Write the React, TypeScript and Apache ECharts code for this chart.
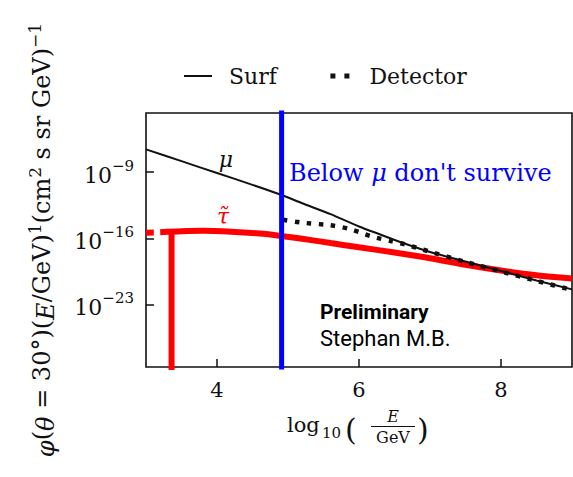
import React, { useEffect, useRef } from "react";
import * as echarts from "echarts";

// Axis ticks (x in log10(E/GeV), y as log10 of flux)
const xTicks = [4, 6, 8];
const yTicks = [-23, -16, -9];

// Muon flux at surface (black solid), log10 values
const muX = [3.0, 3.5, 4.0, 4.5, 4.9, 5.2, 5.6, 6.0, 6.3, 6.6, 7.0, 7.5, 8.0, 8.5, 9.0];
const muY = [-6.6, -7.85, -9.1, -10.35, -11.4, -12.3, -13.45, -14.75, -15.6, -16.45, -17.45, -18.45, -19.45, -20.45, -21.4];

// Muon flux at detector (black dotted)
const detX = [4.93, 5.2, 5.6, 5.85, 6.0, 6.2, 6.45, 6.65, 6.9, 7.5, 8.0, 8.5, 9.0];
const detY = [-14.05, -14.35, -14.62, -14.98, -15.35, -15.85, -16.3, -16.65, -17.2, -18.5, -19.5, -20.5, -21.45];

// Stau flux (red)
const tauLeftX = [3.0, 3.11];
const tauLeftY = [-15.42, -15.4];
const tauX = [3.2, 3.5, 3.8, 4.2, 4.6, 4.9, 5.2, 5.6, 6.0, 6.5, 7.0, 7.5, 8.0, 8.5, 9.0];
const tauY = [-15.35, -15.25, -15.2, -15.3, -15.5, -15.75, -16.05, -16.5, -16.95, -17.5, -18.1, -18.8, -19.4, -19.9, -20.25];
const tauCutX = [3.36, 3.36];
const tauCutY = [-15.35, -40];

// Survival threshold (blue vertical)
const cutX = [4.91, 4.91];
const cutY = [-40, 5];

const pair = (xs: number[], ys: number[]) => xs.map((x, i) => [x, ys[i]]);

const SERIF = '"DejaVu Serif"';
const INK = "#111";
const RED = "#ff0000";
const BLUE = "#0000ff";

const txt = (x: number, y: number, text: string, font: string, fill: string, align = "left", extra: any = {}) => ({
  type: "text",
  x,
  y,
  style: {
    text,
    font,
    fill,
    align,
    verticalAlign: "middle",
    textAlign: align,
    textVerticalAlign: "middle",
    ...extra,
  },
});

export default function App() {
  const ref = useRef<HTMLDivElement>(null);
  useEffect(() => {
    const chart = echarts.init(ref.current!, null, { renderer: "svg" });
    chart.setOption({
      animation: false,
      grid: {
        left: 146,
        right: 1,
        top: 113,
        bottom: 110,
        show: true,
        borderColor: INK,
        borderWidth: 1.6,
        backgroundColor: "transparent",
      },
      legend: {
        top: 65,
        left: 183,
        padding: 0,
        itemWidth: 28,
        itemHeight: 14,
        itemGap: 45,
        itemStyle: { opacity: 0, color: "transparent", borderWidth: 0 },
        textStyle: { fontFamily: SERIF, fontSize: 22, color: INK, padding: [0, 0, 0, 12] },
        data: [
          { name: "Surf", lineStyle: { width: 2, color: INK, type: "solid" } },
          { name: "Detector", lineStyle: { type: [5, 9], dashOffset: 8, width: 5, cap: "butt", color: INK } },
        ],
      },
      xAxis: {
        type: "value",
        min: 3,
        max: 9,
        axisLine: { show: false },
        splitLine: { show: false },
        axisTick: { show: true, inside: true, length: 8, customValues: xTicks, lineStyle: { color: INK, width: 1.5 } },
        axisLabel: { customValues: xTicks, fontFamily: SERIF, fontSize: 21, color: INK, margin: 12 },
      },
      yAxis: {
        type: "value",
        min: -29.6,
        max: -2.76,
        axisLine: { show: false },
        splitLine: { show: false },
        axisTick: { show: true, inside: true, length: 8, customValues: yTicks, lineStyle: { color: INK, width: 1.5 } },
        axisLabel: {
          customValues: yTicks,
          margin: 12,
          formatter: (v: number) => `{b|10}{s|−${Math.abs(Math.round(v))}}`,
          rich: {
            b: { fontFamily: SERIF, fontSize: 22, color: INK, lineHeight: 28, verticalAlign: "bottom" },
            s: { fontFamily: SERIF, fontSize: 15, color: INK, lineHeight: 15, verticalAlign: "top" },
          },
        },
        name: "{i|φ}({i|θ} = 30°)({i|E}/GeV){s|1}(cm{s|2} s sr GeV){s|−1}",
        nameLocation: "middle",
        nameRotate: 90,
        nameGap: 88,
        nameTextStyle: {
          fontFamily: SERIF,
          fontSize: 24,
          color: INK,
          lineHeight: 32,
          rich: {
            i: { fontFamily: SERIF, fontStyle: "italic", fontSize: 24, color: INK, lineHeight: 32, verticalAlign: "bottom" },
            s: { fontFamily: SERIF, fontSize: 17, color: INK, lineHeight: 17, verticalAlign: "top" },
          },
        },
      },
      series: [
        {
          name: "τ̃ edge",
          type: "line",
          data: pair(tauLeftX, tauLeftY),
          symbol: "none",
          lineStyle: { color: RED, width: 6, cap: "butt" },
          silent: true,
        },
        {
          name: "τ̃",
          type: "line",
          data: pair(tauX, tauY),
          symbol: "none",
          smooth: 0.3,
          lineStyle: { color: RED, width: 6 },
          silent: true,
        },
        {
          name: "τ̃ threshold",
          type: "line",
          data: pair(tauCutX, tauCutY),
          symbol: "none",
          lineStyle: { color: RED, width: 6, cap: "butt" },
          silent: true,
        },
        {
          name: "Surf",
          type: "line",
          data: pair(muX, muY),
          symbol: "none",
          smooth: 0.2,
          lineStyle: { color: INK, width: 2 },
          itemStyle: { color: INK },
          silent: true,
        },
        {
          name: "Detector",
          type: "line",
          data: pair(detX, detY),
          symbol: "none",
          smooth: 0.2,
          lineStyle: { color: INK, width: 4.5, type: [4.5, 7.5], cap: "butt" },
          itemStyle: { color: INK },
          silent: true,
        },
        {
          name: "Survival cut",
          type: "line",
          data: pair(cutX, cutY),
          symbol: "none",
          lineStyle: { color: BLUE, width: 5, cap: "butt" },
          silent: true,
        },
      ],
      graphic: [
        txt(226, 159, "μ", `italic 22px ${SERIF}`, INK, "center"),
        txt(223, 216, "τ\u0303", `italic 22px ${SERIF}`, RED, "center"),
        txt(289, 173, "Below {m|μ} don't survive", `24px ${SERIF}`, BLUE, "left", {
          rich: { m: { fontFamily: SERIF, fontStyle: "italic", fontSize: 24, fill: BLUE, color: BLUE } },
        }),
        txt(320, 312, "Preliminary", "bold 21px Roboto", "#000"),
        txt(320, 338, "Stephan M.B.", "22px Roboto", "#000"),
        // x-axis title: log10 (E / GeV)
        txt(287, 425, "log", `21px ${SERIF}`, INK),
        txt(322, 433, "10", `15px ${SERIF}`, INK),
        txt(345, 429, "(", `30px ${SERIF}`, INK),
        txt(393, 416, "E", `italic 16px ${SERIF}`, INK, "center"),
        {
          type: "line",
          shape: { x1: 371, y1: 426.5, x2: 415, y2: 426.5 },
          style: { stroke: INK, lineWidth: 1 },
        },
        txt(393, 437, "GeV", `16px ${SERIF}`, INK, "center"),
        txt(417, 429, ")", `30px ${SERIF}`, INK),
      ],
    });
    return () => chart.dispose();
  }, []);
  return (
    <div
      ref={ref}
      style={{ position: "fixed", left: 0, top: 0, width: 573, height: 477, background: "#fff" }}
    />
  );
}
